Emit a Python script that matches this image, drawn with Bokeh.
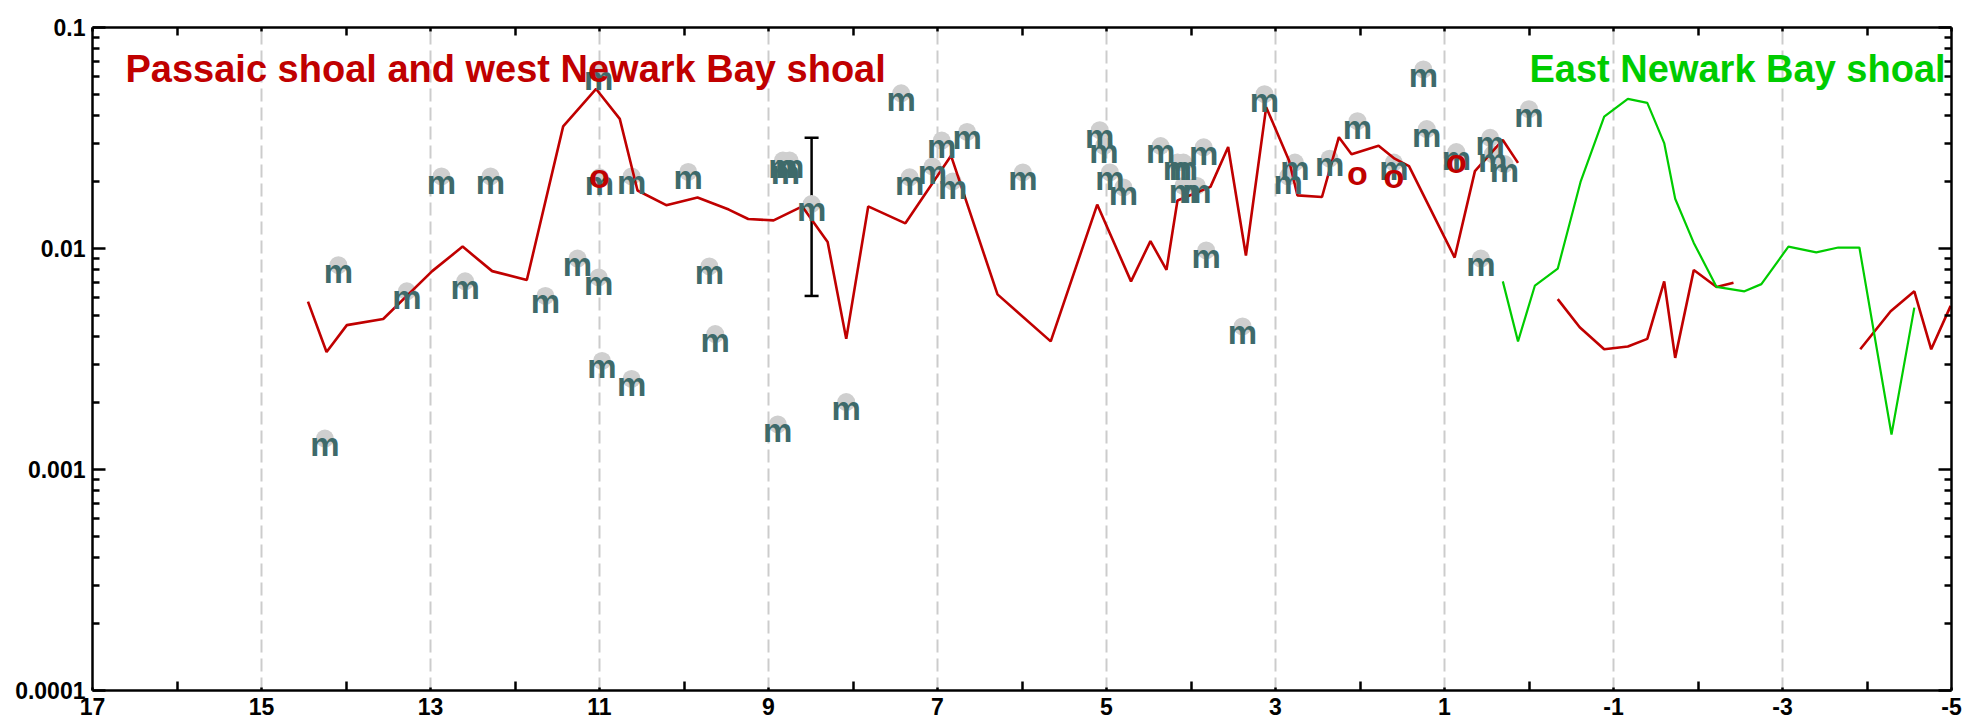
from bokeh.plotting import figure
from bokeh.models import (Range1d, FixedTicker, LinearAxis, LogAxis, CustomJSTickFormatter,
                          Label, Whisker, TeeHead, ColumnDataSource)
from bokeh.core.properties import value
from bokeh.embed import file_html
from bokeh.resources import INLINE

# ---------------- data ----------------
x_ticks = [17, 15, 13, 11, 9, 7, 5, 3, 1, -1, -3, -5]
x_minor = [16, 14, 12, 10, 8, 6, 4, 2, 0, -2, -4]
grid_x = [15, 13, 11, 9, 7, 5, 3, 1, -1, -3]
y_ticks = [0.0001, 0.001, 0.01, 0.1]
y_labels = ["0.0001", "0.001", "0.01", "0.1"]

# Passaic / west Newark Bay shoal line (three pieces)
red1_x = [14.45, 14.23, 13.99, 13.56, 12.98, 12.62, 12.27, 11.86, 11.43, 11.04, 10.76, 10.55,
          10.21, 9.84, 9.47, 9.24, 8.94, 8.60, 8.30, 8.08, 7.82, 7.38, 6.84, 6.29, 5.66,
          5.11, 4.71, 4.48, 4.29, 4.16, 3.77, 3.56, 3.35, 3.11, 2.84, 2.74, 2.45, 2.25,
          2.10, 1.78, 1.59, 1.42, 1.20, 0.88, 0.64, 0.31, 0.13]
red1_y = [0.00575, 0.0034, 0.0045, 0.0048, 0.0079, 0.0102, 0.0079, 0.0072, 0.0357, 0.0527,
          0.0386, 0.0183, 0.0157, 0.0170, 0.0150, 0.0136, 0.0134, 0.0155, 0.0107, 0.0039,
          0.0155, 0.0130, 0.0263, 0.0062, 0.0038, 0.0158, 0.0071, 0.0108, 0.0080, 0.0165,
          0.0190, 0.0288, 0.0093, 0.0436, 0.0250, 0.0174, 0.0171, 0.0319, 0.0267, 0.0292,
          0.0255, 0.0236, 0.0160, 0.0091, 0.0224, 0.0310, 0.0244]
red2_x = [-0.34, -0.60, -0.89, -1.17, -1.40, -1.60, -1.73, -1.95, -2.22, -2.42]
red2_y = [0.0059, 0.0044, 0.0035, 0.0036, 0.0039, 0.0071, 0.0032, 0.0080, 0.0067, 0.0070]
red3_x = [-3.92, -4.28, -4.56, -4.76, -4.99]
red3_y = [0.0035, 0.0052, 0.0064, 0.0035, 0.0055]

# East Newark Bay shoal line
green_x = [0.31, 0.13, -0.07, -0.34, -0.61, -0.89, -1.17, -1.40, -1.60, -1.73, -1.95, -2.22,
           -2.55, -2.75, -3.07, -3.40, -3.66, -3.91, -4.29, -4.56]
green_y = [0.0071, 0.0038, 0.0068, 0.0081, 0.020, 0.0395, 0.0475, 0.0456, 0.030, 0.0168,
           0.0106, 0.0067, 0.0064, 0.0069, 0.0102, 0.0096, 0.0101, 0.0101, 0.00144, 0.0054]

# "m" samples
m_x = [14.09, 13.28, 12.87, 12.29, 12.59, 11.64, 11.26, 11.01, 11.01, 11.00, 10.62, 9.95,
       14.25, 10.97, 10.62, 9.63, 8.08, 8.89, 3.39, 9.70, 7.43, 8.83, 8.75, 8.80, 8.49,
       7.33, 7.06, 6.95, 6.65, 6.82, 5.99, 5.08, 5.03, 4.96, 4.80, 4.36, 4.16, 4.09, 3.85,
       4.09, 3.93, 3.82, 3.13, 2.77, 2.85, 2.36, 2.03, 1.60, 1.25, 1.21, 0.86, 0.46, 0.43,
       0.29, 0.00, 0.57]
m_y = [0.0084, 0.0064, 0.0212, 0.0212, 0.0071, 0.0061, 0.0090, 0.0074, 0.0625, 0.0210,
       0.0212, 0.0222, 0.00138, 0.0031, 0.00257, 0.0041, 0.00202, 0.0016, 0.00444, 0.0083,
       0.0504, 0.0250, 0.0250, 0.0234, 0.0159, 0.0210, 0.0235, 0.0308, 0.0337, 0.0201,
       0.0221, 0.0343, 0.0291, 0.0221, 0.0189, 0.0291, 0.0245, 0.0245, 0.0287, 0.0192,
       0.0192, 0.0098, 0.0499, 0.0245, 0.0212, 0.0255, 0.0377, 0.0245, 0.0646, 0.0347,
       0.0273, 0.0317, 0.0267, 0.0241, 0.0427, 0.0090]

# "o" samples
o_x = [11.00, 2.03, 1.60, 0.86]
o_y = [0.0212, 0.0220, 0.0213, 0.0248]

# error bar
err_x = [8.49]
err_lo = [0.0061]
err_hi = [0.0317]

RED = "#c00000"
GREEN = "#00cc00"
TEAL = "#3e6a6a"
FONT = "Liberation Sans"

p = figure(width=1982, height=727, x_range=Range1d(17, -5), y_range=Range1d(1e-4, 1e-1),
           y_axis_type="log", output_backend="svg", toolbar_location=None,
           min_border_left=92, min_border_right=31, min_border_top=27, min_border_bottom=37)
p.outline_line_color = None
p.background_fill_color = "white"

# grid
p.ygrid.visible = False
p.xgrid.ticker = FixedTicker(ticks=grid_x)
p.xgrid.grid_line_color = "#cccccc"
p.xgrid.grid_line_width = 2
p.xgrid.grid_line_dash = "13 6"

def style_axis(ax, labels=True):
    ax.axis_line_width = 2.5
    ax.axis_line_color = "black"
    ax.major_tick_line_width = 2.5
    ax.minor_tick_line_width = 2.5
    ax.major_tick_out = 0
    ax.minor_tick_out = 0
    if labels:
        ax.major_label_text_font = FONT
        ax.major_label_text_font_style = "bold"
        ax.major_label_text_font_size = "23px"
        ax.major_label_text_color = "black"
    else:
        ax.major_label_text_font_size = "8px"
        ax.major_label_standoff = 0
        ax.formatter = CustomJSTickFormatter(code="return ''")

xt = FixedTicker(ticks=x_ticks, minor_ticks=x_minor)
ymin = [k * 10.0 ** e for e in (-4, -3, -2) for k in range(2, 10)]
yt = FixedTicker(ticks=y_ticks, minor_ticks=ymin)

xb = p.xaxis[0]
xb.ticker = xt
style_axis(xb)
xb.major_tick_in = 3
xb.minor_tick_in = 9
xb.major_label_standoff = 7
xb.formatter = CustomJSTickFormatter(code="return String(Math.round(tick))")

yl = p.yaxis[0]
yl.ticker = yt
style_axis(yl)
yl.major_tick_in = 13
yl.minor_tick_in = 7
yl.major_label_standoff = 7
yl.formatter = CustomJSTickFormatter(
    args=dict(vals=y_ticks, labs=y_labels),
    code="""
    let best = 0, bd = 1e9;
    for (let i = 0; i < vals.length; i++) {
        const d = Math.abs(Math.log10(vals[i]) - Math.log10(tick));
        if (d < bd) { bd = d; best = i; }
    }
    return labs[best];
    """)

xtop = LinearAxis(ticker=FixedTicker(ticks=x_ticks, minor_ticks=x_minor))
style_axis(xtop, labels=False)
xtop.major_tick_in = 4
xtop.minor_tick_in = 8
p.add_layout(xtop, "above")

yr = LogAxis(ticker=FixedTicker(ticks=y_ticks, minor_ticks=ymin))
style_axis(yr, labels=False)
yr.major_tick_in = 13
yr.minor_tick_in = 7
p.add_layout(yr, "right")

# circles behind the "m" labels
p.scatter(m_x, m_y, size=18, marker="circle", fill_color="#cfcfcf", line_color=None)

# lines
p.line(red1_x, red1_y, line_color=RED, line_width=2.6)
p.line(red2_x, red2_y, line_color=RED, line_width=2.6)
p.line(red3_x, red3_y, line_color=RED, line_width=2.6)
p.line(green_x, green_y, line_color=GREEN, line_width=2.2)

# error bar
src = ColumnDataSource(dict(x=err_x, lo=err_lo, hi=err_hi))
wh = Whisker(source=src, base="x", lower="lo", upper="hi", dimension="height",
             line_color="black", line_width=2.5,
             upper_head=TeeHead(size=14, line_width=2.5, line_color="black"),
             lower_head=TeeHead(size=14, line_width=2.5, line_color="black"))
p.add_layout(wh)

# "m" labels
p.text(m_x, m_y, text=["m"] * len(m_x), text_font=value(FONT), text_font_style="bold",
       text_font_size="33px", text_color=TEAL, text_align="center",
       text_baseline="alphabetic", y_offset=6)

# "o" labels
p.text(o_x, o_y, text=["o"] * len(o_x), text_font=value(FONT), text_font_style="bold",
       text_font_size="34px", text_color=RED, text_align="center",
       text_baseline="alphabetic", y_offset=0)

# region titles
p.add_layout(Label(x=16.61, y=0.0652, text="Passaic shoal and west Newark Bay shoal",
                   text_font=FONT, text_font_style="bold", text_font_size="38px",
                   text_color=RED, text_align="left", text_baseline="alphabetic"))
p.add_layout(Label(x=-4.93, y=0.0652, text="East Newark Bay shoal",
                   text_font=FONT, text_font_style="bold", text_font_size="38px",
                   text_color=GREEN, text_align="right", text_baseline="alphabetic"))

open("out.html", "w").write(file_html(p, INLINE))
